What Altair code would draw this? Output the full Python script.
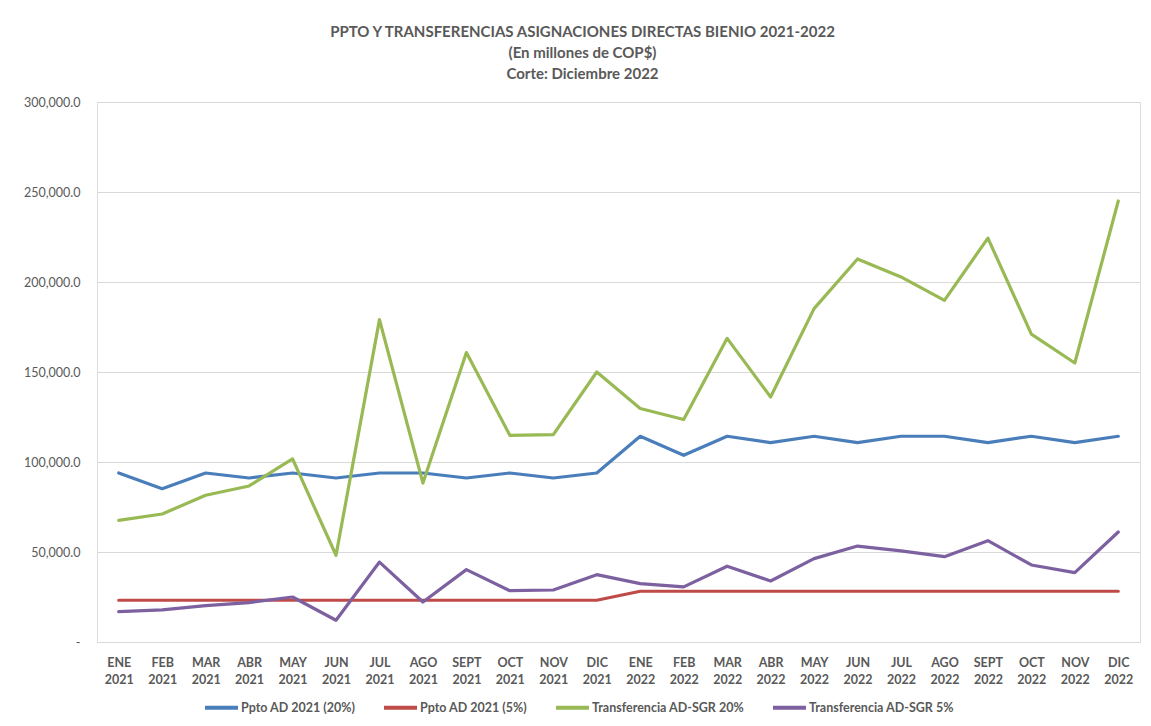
import altair as alt
import pandas as pd

months = ["ENE 2021", "FEB 2021", "MAR 2021", "ABR 2021", "MAY 2021", "JUN 2021",
          "JUL 2021", "AGO 2021", "SEPT 2021", "OCT 2021", "NOV 2021", "DIC 2021",
          "ENE 2022", "FEB 2022", "MAR 2022", "ABR 2022", "MAY 2022", "JUN 2022",
          "JUL 2022", "AGO 2022", "SEPT 2022", "OCT 2022", "NOV 2022", "DIC 2022"]

series_names = ["Ppto AD 2021 (20%)", "Ppto AD 2021 (5%)",
                "Transferencia AD-SGR 20%", "Transferencia AD-SGR 5%"]
series_colors = ["#4A7EBB", "#BE4B48", "#98B954", "#7D60A0"]

ppto_20 = [93900, 85200, 93900, 91100, 93900, 91100, 93900, 93900, 91100, 93900, 91100, 93900,
           114300, 103700, 114300, 110800, 114300, 110800, 114300, 114300, 110800, 114300, 110800, 114300]
ppto_5 = [23200] * 12 + [28200] * 12
transf_20 = [67600, 71100, 81500, 86700, 101700, 48200, 179100, 88300, 160800, 114800, 115200, 150000,
             129700, 123600, 168700, 136100, 185200, 212800, 202800, 189800, 224400, 171000, 155000, 245000]
transf_5 = [16900, 17800, 20200, 21900, 25000, 12100, 44400, 22200, 40200, 28500, 28900, 37400,
            32400, 30600, 42100, 33900, 46300, 53300, 50600, 47400, 56300, 42800, 38500, 61100]

values = [ppto_20, ppto_5, transf_20, transf_5]
rows = []
for name, vals in zip(series_names, values):
    for m, v in zip(months, vals):
        rows.append({"mes": m, "serie": name, "valor": v})
df = pd.DataFrame(rows)

FONT = "Lato"
GRAY = "#595959"

chart = alt.Chart(df).mark_line(strokeWidth=3.2, strokeCap="round", strokeJoin="round").encode(
    x=alt.X("mes:N", sort=months, title=None,
            scale=alt.Scale(type="point", padding=0.5),
            axis=alt.Axis(labelAngle=0, labelExpr="split(datum.label, ' ')",
                          labelFont=FONT, labelFontSize=12.5, labelFontWeight="bold",
                          labelColor=GRAY, labelLineHeight=17, labelPadding=14,
                          ticks=False, domain=True, domainColor="#D9D9D9", domainWidth=1,
                          grid=False)),
    y=alt.Y("valor:Q", title=None,
            scale=alt.Scale(domain=[0, 300000], nice=False),
            axis=alt.Axis(values=[0, 50000, 100000, 150000, 200000, 250000, 300000],
                          labelExpr="datum.value == 0 ? '-' : format(datum.value, ',.1f')",
                          labelFont=FONT, labelFontSize=12.5, labelColor=GRAY,
                          labelPadding=17, ticks=False, domain=False,
                          grid=True, gridColor="#D9D9D9", gridWidth=1)),
    color=alt.Color("serie:N", sort=series_names,
                    scale=alt.Scale(domain=series_names, range=series_colors),
                    legend=alt.Legend(title=None, orient="none", direction="horizontal",
                                      legendX=106, legendY=587,
                                      symbolType="stroke", symbolSize=1089, symbolStrokeWidth=4,
                                      labelFont=FONT, labelFontSize=12.5, labelFontWeight="bold",
                                      labelColor=GRAY, columnPadding=20, labelOffset=1,
                                      columns=4)),
).properties(
    width=1043,
    height=540,
    title=alt.Title(["PPTO Y TRANSFERENCIAS ASIGNACIONES DIRECTAS BIENIO 2021-2022",
                     "(En millones de COP$)", "Corte: Diciembre 2022"],
                    font=FONT, fontSize=15, fontWeight="bold", color=GRAY,
                    anchor="middle", dx=-36, lineHeight=21, offset=14),
    autosize=alt.AutoSizeParams(type="none"),
    padding={"left": 89, "top": 94, "right": 3, "bottom": 76},
).configure_view(stroke=None).configure(background="white")

chart.save("out.html", embed_options={"renderer": "svg", "actions": False})
